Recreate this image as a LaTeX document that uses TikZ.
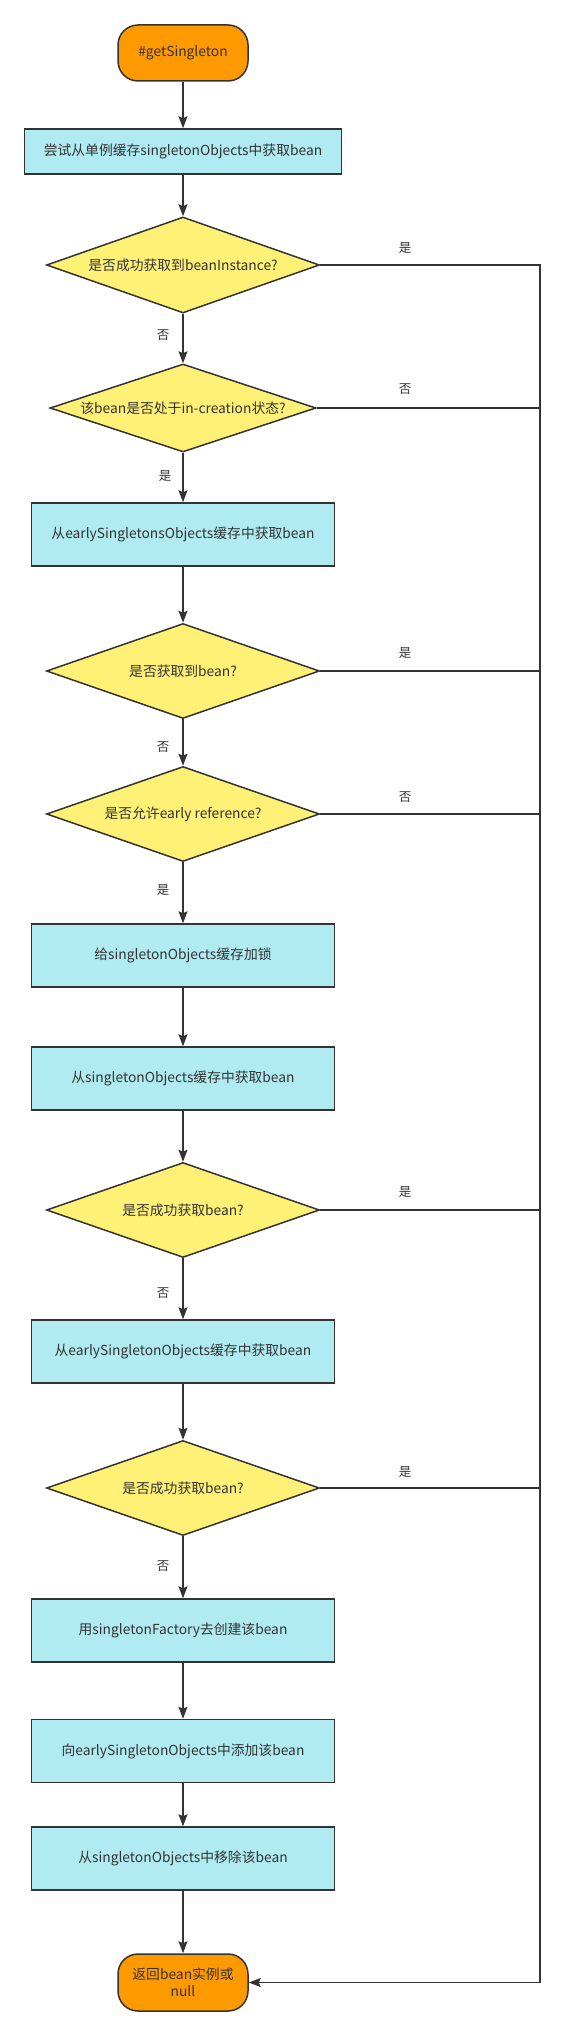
\documentclass[tikz,border=0pt]{standalone}
\usepackage{fontspec}
\setmainfont{Noto Sans CJK SC}
\usetikzlibrary{shapes.geometric,arrows.meta}
\definecolor{boxfill}{RGB}{176,235,242}
\definecolor{decfill}{RGB}{255,241,118}
\definecolor{termfill}{RGB}{255,153,0}
\definecolor{ink}{RGB}{51,51,51}
\begin{document}
\begin{tikzpicture}[x=1pt,y=-1pt,
  txt/.style={font=\fontsize{13.8}{17}\selectfont, text=ink},
  term/.style={txt, draw=ink, fill=termfill, line width=1.5pt, rounded corners=20pt,
    minimum width=130pt, minimum height=56pt, inner sep=0pt, align=center},
  proc/.style={txt, draw=ink, fill=boxfill, line width=1.5pt,
    minimum width=303pt, minimum height=63pt, inner sep=0pt},
  dec/.style={txt, diamond, draw=ink, fill=decfill, line width=1.5pt,
    minimum width=273pt, minimum height=95pt, inner sep=0pt, aspect=2.87},
  lbl/.style={font=\fontsize{12.5}{14}\selectfont, text=ink},
  flow/.style={draw=ink, line width=1.5pt, -{Stealth[length=12pt,width=9pt,inset=2pt]}},
  rail/.style={draw=ink, line width=1.5pt}
]
\useasboundingbox (0,0) rectangle (566,2036);

\node[term] (start) at (183,53) {\#getSingleton};
\node[proc, minimum width=317pt, minimum height=45pt] (b1) at (183,151.5) {尝试从单例缓存singletonObjects中获取bean};
\node[dec, minimum height=96pt] (d1) at (183,265) {是否成功获取到beanInstance?};
\node[dec, minimum width=266pt, minimum height=88pt, aspect=3.02] (d2) at (183,408) {该bean是否处于in-creation状态?};
\node[proc] (b2) at (183,534.5) {从earlySingletonsObjects缓存中获取bean};
\node[dec] (d3) at (183,671) {是否获取到bean?};
\node[dec] (d4) at (183,814) {是否允许early reference?};
\node[proc] (b3) at (183,955.5) {给singletonObjects缓存加锁};
\node[proc] (b4) at (183,1078.5) {从singletonObjects缓存中获取bean};
\node[dec] (d5) at (183,1210) {是否成功获取bean?};
\node[proc] (b5) at (183,1351.5) {从earlySingletonObjects缓存中获取bean};
\node[dec] (d6) at (183,1488) {是否成功获取bean?};
\node[proc] (b6) at (183,1630.5) {用singletonFactory去创建该bean};
\node[proc] (b7) at (183,1751) {向earlySingletonObjects中添加该bean};
\node[proc] (b8) at (183,1858.5) {从singletonObjects中移除该bean};
\node[term, minimum height=57pt] (end) at (183,1982.5) {返回bean实例或\\null};

\coordinate (railtop) at (540,265);
\coordinate (railbot) at (540,1982.5);

\path[flow] (start) -- (b1);
\path[flow] (b1) -- (d1);
\path[flow] (d1) -- (d2);
\path[flow] (d2) -- (b2);
\path[flow] (b2) -- (d3);
\path[flow] (d3) -- (d4);
\path[flow] (d4) -- (b3);
\path[flow] (b3) -- (b4);
\path[flow] (b4) -- (d5);
\path[flow] (d5) -- (b5);
\path[flow] (b5) -- (d6);
\path[flow] (d6) -- (b6);
\path[flow] (b6) -- (b7);
\path[flow] (b7) -- (b8);
\path[flow] (b8) -- (end);

\path[rail] (d1.east) -- (railtop) -- (railbot);
\path[rail] (d2.east) -- (d2.east -| railtop);
\path[rail] (d3.east) -- (d3.east -| railtop);
\path[rail] (d4.east) -- (d4.east -| railtop);
\path[rail] (d5.east) -- (d5.east -| railtop);
\path[rail] (d6.east) -- (d6.east -| railtop);
\path[flow] (railbot) -- (end.east);

\node[lbl] (l1) at (405,248) {是};
\node[lbl] (l2) at (405,389) {否};
\node[lbl] (l3) at (405,653) {是};
\node[lbl] (l4) at (405,797) {否};
\node[lbl] (l5) at (405,1192) {是};
\node[lbl] (l6) at (405,1472) {是};

\node[lbl] (m1) at (163,335) {否};
\node[lbl] (m2) at (165,476) {是};
\node[lbl] (m3) at (163,747) {否};
\node[lbl] (m4) at (163,890) {是};
\node[lbl] (m5) at (163,1293) {否};
\node[lbl] (m6) at (163,1566) {否};
\end{tikzpicture}
\end{document}
